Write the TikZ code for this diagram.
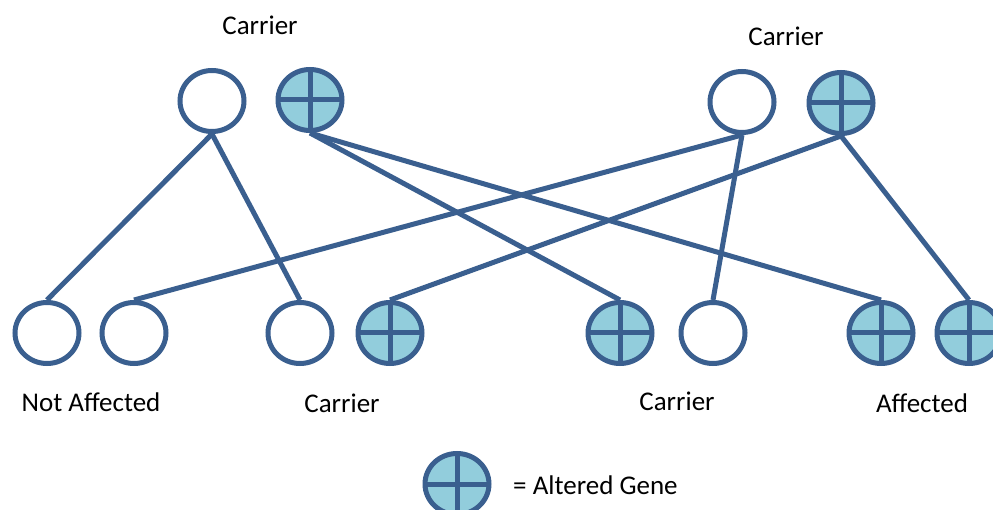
\documentclass[tikz,border=0pt]{standalone}
\usepackage{fontspec}
\setmainfont{Carlito}
\usetikzlibrary{shapes.geometric}
\definecolor{edgeblue}{HTML}{3A5F8F}
\definecolor{genefill}{HTML}{92CDDC}
\tikzset{
  person/.style={ellipse, draw=edgeblue, line width=5pt, fill=white,
    minimum width=64pt, minimum height=61pt, inner sep=0pt},
  altered/.style={person, fill=genefill, path picture={
    \draw[edgeblue, line width=5pt] (path picture bounding box.north) -- (path picture bounding box.south);
    \draw[edgeblue, line width=5pt] (path picture bounding box.west) -- (path picture bounding box.east);}},
  link/.style={edgeblue, line width=5pt},
  lbl/.style={font=\fontsize{27}{32}\selectfont, inner sep=0pt}
}
\begin{document}
\begin{tikzpicture}[x=1pt, y=-1pt]
\useasboundingbox (0,0) rectangle (993,510);
% top row
\node[person]  (tlp) at (212,101) {};
\node[altered] (tla) at (310,100) {};
\node[person]  (trp) at (742,102) {};
\node[altered] (tra) at (841,103) {};
% bottom row
\node[person]  (b1) at (47,333) {};
\node[person]  (b2) at (134,333) {};
\node[person]  (b3) at (300,333) {};
\node[altered] (b4) at (390,333) {};
\node[altered] (b5) at (620,333) {};
\node[person]  (b6) at (713,333) {};
\node[altered] (b7) at (881,333) {};
\node[altered] (b8) at (969,333) {};
% connectors
\draw[link] (tlp.south) -- (b1.north);
\draw[link] (tlp.south) -- (b3.north);
\draw[link] (tla.south) -- (b5.north);
\draw[link] (tla.south) -- (b7.north);
\draw[link] (trp.south) -- (b2.north);
\draw[link] (trp.south) -- (b6.north);
\draw[link] (tra.south) -- (b4.north);
\draw[link] (tra.south) -- (b8.north);
% labels
\node[lbl] (l1) at (260,25) {Carrier};
\node[lbl] (l2) at (786,36) {Carrier};
\node[lbl] (l3) at (91,402) {Not Affected};
\node[lbl] (l4) at (342,403) {Carrier};
\node[lbl] (l5) at (677,401) {Carrier};
\node[lbl] (l6) at (922,403) {Affected};
% legend
\node[altered] (leg) at (457,484) {};
\node[lbl, anchor=west] (legt) at (513,485) {= Altered Gene};
\end{tikzpicture}
\end{document}
